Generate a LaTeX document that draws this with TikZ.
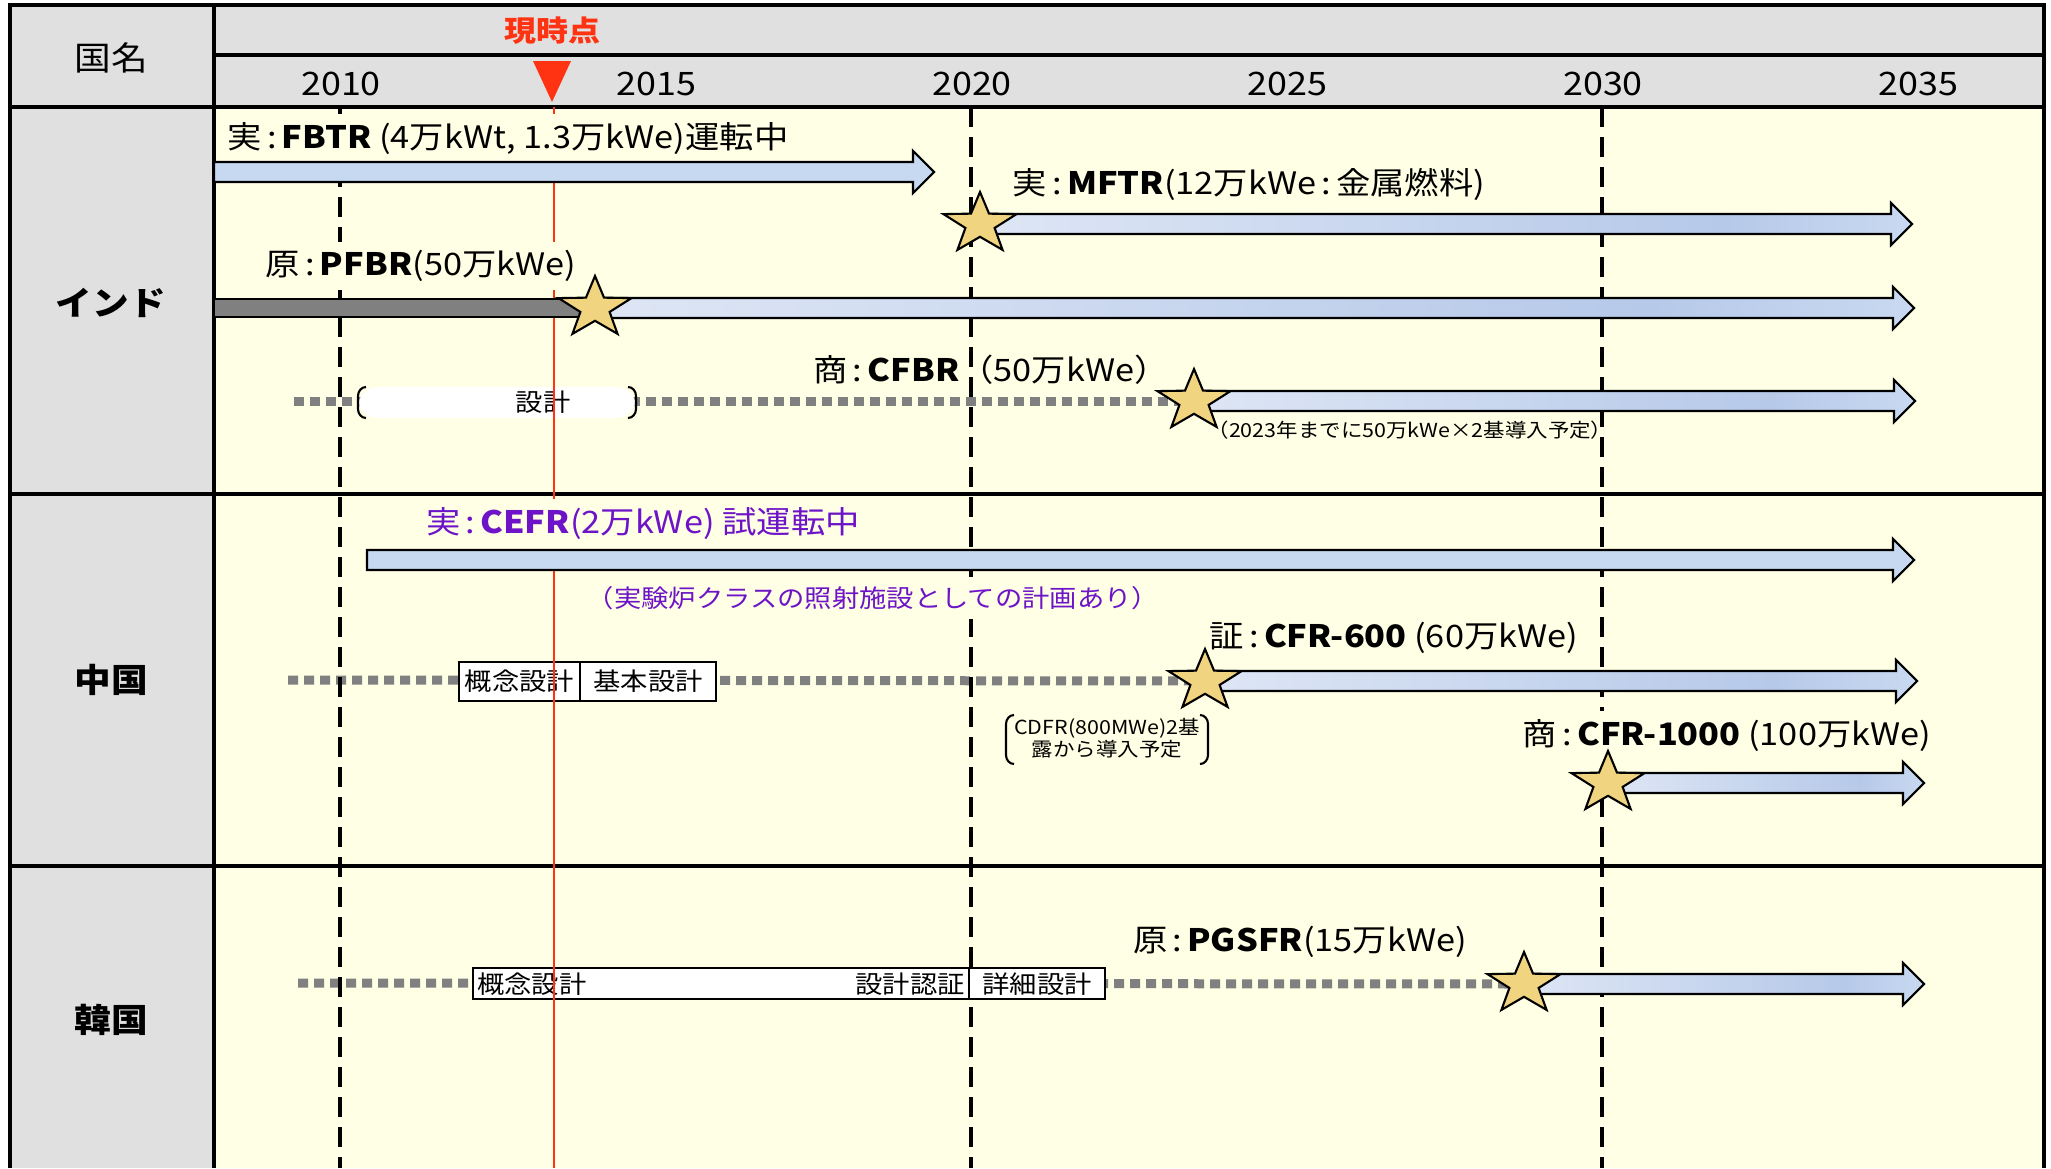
\documentclass[tikz,border=0pt]{standalone}
\usepackage{fontspec}
\setmainfont{Noto Sans CJK JP}[FakeStretch=1.11]
\usetikzlibrary{calc,shapes.geometric}
\definecolor{HeadGray}{RGB}{224,224,224}
\definecolor{ChartBg}{RGB}{255,255,229}
\definecolor{BarBlue}{RGB}{198,217,241}
\definecolor{GradA}{RGB}{222,230,245}
\definecolor{GradB}{RGB}{182,201,233}
\definecolor{GradC}{RGB}{200,217,240}
\definecolor{StarGold}{RGB}{240,212,128}
\definecolor{NowRed}{RGB}{255,51,17}
\definecolor{PlanGray}{RGB}{128,128,128}
\definecolor{CnPurple}{RGB}{110,20,200}
\pgfdeclarehorizontalshading{barshade}{100bp}{color(0bp)=(GradA); color(25bp)=(GradA); color(65bp)=(GradB); color(75bp)=(GradC); color(100bp)=(GradC)}
\newcommand{\lblfont}{\fontsize{8.8}{10}\selectfont}
\newcommand{\yearfont}{\fontsize{9.2}{10}\selectfont}
\newcommand{\boxfont}{\fontsize{7}{8}\selectfont}
\newcommand{\notefont}{\fontsize{5.5}{6.3}\selectfont}
\tikzset{
  frameline/.style={line width=1.2pt},
  gridline/.style={line width=0.9pt},
  yearline/.style={line width=1.4pt, dash pattern=on 2mm off 1mm},
  nowline/.style={NowRed, line width=0.6pt},
  plandots/.style={PlanGray, line width=0.9mm, dash pattern=on 1mm off 0.6mm},
  barline/.style={line width=0.6pt, line join=miter},
  barfill/.style={fill=BarBlue},
  gradfill/.style={shading=barshade},
  planbox/.style={draw, fill=white, line width=0.6pt},
  fstar/.style={star, star points=5, star point ratio=2.5, minimum size=6.4mm, inner sep=0pt,
    draw, line width=0.6pt, fill=StarGold, xscale=1.2, transform shape},
  lbl/.style={font=\lblfont, inner sep=1pt},
  cover/.style={fill=ChartBg, inner sep=2.5pt},
  country/.style={font=\fontsize{9.4}{10}\selectfont},
  boxtext/.style={font=\boxfont, inner sep=1pt},
  note/.style={font=\notefont, inner sep=1pt}
}
% arrow from a start coordinate to a tip coordinate
\newcommand{\planarrow}[3][barfill]{%
  \draw[barline,#1] ($(#2)+(0,-10)$) -- ($(#3)+(-21,-10)$) -- ($(#3)+(-21,-21)$) -- (#3)
    -- ($(#3)+(-21,21)$) -- ($(#3)+(-21,10)$) -- ($(#2)+(0,10)$) -- cycle;}
% round bracket pair
\newcommand{\bracketpair}[4]{%
  \draw[line width=0.6pt] (#1+8,#2) to[out=180,in=90] (#1,#2+9) -- (#1,#4-9) to[out=-90,in=180] (#1+8,#4);
  \draw[line width=0.6pt] (#3-8,#2) to[out=0,in=90] (#3,#2+9) -- (#3,#4-9) to[out=-90,in=0] (#3-8,#4);}

\begin{document}
\begin{tikzpicture}[x=0.1mm, y=-0.1mm]
  \useasboundingbox (0,0) rectangle (2051,1168);
  % table background
  \fill[HeadGray] (10,5) rectangle (2044,107);
  \fill[HeadGray] (10,107) rectangle (214,1168);
  \fill[ChartBg] (214,107) rectangle (2044,1168);
  \draw[frameline] (10,1168) -- (10,5) -- (2044,5) -- (2044,1168);
  \draw[gridline] (214,55) -- (2044,55);
  \foreach \rowy in {107,494,866}
    \draw[gridline] (10,\rowy) -- (2044,\rowy);
  \draw[gridline] (214,5) -- (214,1168);

  % header
  \node[country] (cHead) at (111,58) {国名};
  \node[country] (cIN) at (111,303) {\textbf{インド}};
  \node[country] (cCN) at (111,680) {\textbf{中国}};
  \node[country] (cKR) at (111,1020) {\textbf{韓国}};
  \foreach \yr in {2010,2015,...,2035}
    \node[font=\yearfont, inner sep=0pt] (y\yr) at ({341+63.1*(\yr-2010)},84) {\yr};
  \node[font=\fontsize{8.2}{9}\selectfont\bfseries, text=NowRed, inner sep=0pt] (now) at (552,31) {現時点};

  % key points of the plans
  \coordinate (fbtrL) at (214,172);  \coordinate (fbtrT) at (934,172);
  \coordinate (mftrS) at (980,224);  \coordinate (mftrT) at (1912,224);
  \coordinate (pfbrL) at (214,308);  \coordinate (pfbrS) at (595,308);  \coordinate (pfbrT) at (1914,308);
  \coordinate (cfbrL) at (294,401);  \coordinate (cfbrS) at (1194,401); \coordinate (cfbrT) at (1915,401);
  \coordinate (cefrL) at (367,560);  \coordinate (cefrT) at (1914,560);
  \coordinate (cfraL) at (288,680);  \coordinate (cfraS) at (1205,681); \coordinate (cfraT) at (1917,681);
  \coordinate (cfrbS) at (1608,783); \coordinate (cfrbT) at (1924,783);
  \coordinate (pgsL) at (298,983);   \coordinate (pgsS) at (1524,984);  \coordinate (pgsT) at (1924,984);

  % planning phases
  \draw[plandots] (cfbrL) -- (cfbrS);
  \draw[plandots] (cfraL) -- (cfraS);
  \draw[plandots] (pgsL) -- (pgsS);

  % year grid
  \foreach \yr in {2010,2020,2030}
    \draw[yearline] ({340+63.1*(\yr-2010)},107) -- ({340+63.1*(\yr-2010)},1168);

  % design boxes
  \fill[white, rounded corners=2mm] (358,387) rectangle (636,418);
  \bracketpair{358}{387}{636}{418}
  \node[boxtext] (dIN) at (543,402) {設計};
  \draw[planbox] (459,662) rectangle (580,701);
  \draw[planbox] (580,662) rectangle (716,701);
  \node[boxtext] (dCNa) at (519.5,681.5) {概念設計};
  \node[boxtext] (dCNb) at (648,681.5) {基本設計};
  \draw[planbox] (473,968) rectangle (969,999);
  \draw[planbox] (969,968) rectangle (1105,999);
  \node[boxtext, anchor=west] (dKRa) at (473,984) {概念設計};
  \node[boxtext, anchor=east] (dKRb) at (969,984) {設計認証};
  \node[boxtext] (dKRc) at (1037,984) {詳細設計};
  \bracketpair{1006}{715}{1208}{764}
  \node[note, align=center] (nCDFR) at (1107,738) {CDFR(800MWe)2基\\露から導入予定};

  % now line
  \draw[nowline] (554,107) -- (554,1168);
  \fill[NowRed] (533,61) -- (571,61) -- (552,102) -- cycle;

  % labels
  \node[lbl, cover] (lFBTR) at (508,139) {実\,:\,\textbf{FBTR} (4万kWt, 1.3万kWe)運転中};
  \node[lbl] (lMFTR) at (1249,184) {実\,:\,\textbf{MFTR}(12万kWe\,:\,金属燃料)};
  \node[lbl, cover] (lPFBR) at (421,266) {原\,:\,\textbf{PFBR}(50万kWe)};
  \node[lbl] (lCFBR) at (991,370) {商\,:\,\textbf{CFBR}（50万kWe）};
  \node[note] (nCFBR) at (1410,430) {（2023年までに50万kWe×2基導入予定）};
  \node[lbl, cover, text=CnPurple] (lCEFR) at (643,524) {実\,:\,\textbf{CEFR}(2万kWe) 試運転中};
  \node[font=\fontsize{7}{8}\selectfont, text=CnPurple, fill=ChartBg, inner sep=2.5pt] (nCEFR) at (873,598) {（実験炉クラスの照射施設としての計画あり）};
  \node[lbl] (lCFRA) at (1394,638) {証\,:\,\textbf{CFR-600} (60万kWe)};
  \node[lbl, cover] (lCFRB) at (1727,736) {商\,:\,\textbf{CFR-1000} (100万kWe)};
  \node[lbl] (lPGS) at (1300,942) {原\,:\,\textbf{PGSFR}(15万kWe)};

  % bars and arrows
  \planarrow{fbtrL}{fbtrT}
  \planarrow[gradfill]{mftrS}{mftrT}
  \draw[barline, fill=PlanGray] ($(pfbrL)+(0,-9)$) rectangle ($(pfbrS)+(0,9)$);
  \planarrow[gradfill]{pfbrS}{pfbrT}
  \planarrow[gradfill]{cfbrS}{cfbrT}
  \planarrow{cefrL}{cefrT}
  \planarrow[gradfill]{cfraS}{cfraT}
  \planarrow[gradfill]{cfrbS}{cfrbT}
  \planarrow[gradfill]{pgsS}{pgsT}

  % milestones
  \node[fstar] (sMFTR) at (mftrS) {};
  \node[fstar] (sPFBR) at (pfbrS) {};
  \node[fstar] (sCFBR) at (cfbrS) {};
  \node[fstar] (sCFRA) at (cfraS) {};
  \node[fstar] (sCFRB) at (cfrbS) {};
  \node[fstar] (sPGS) at (pgsS) {};
\end{tikzpicture}
\end{document}
